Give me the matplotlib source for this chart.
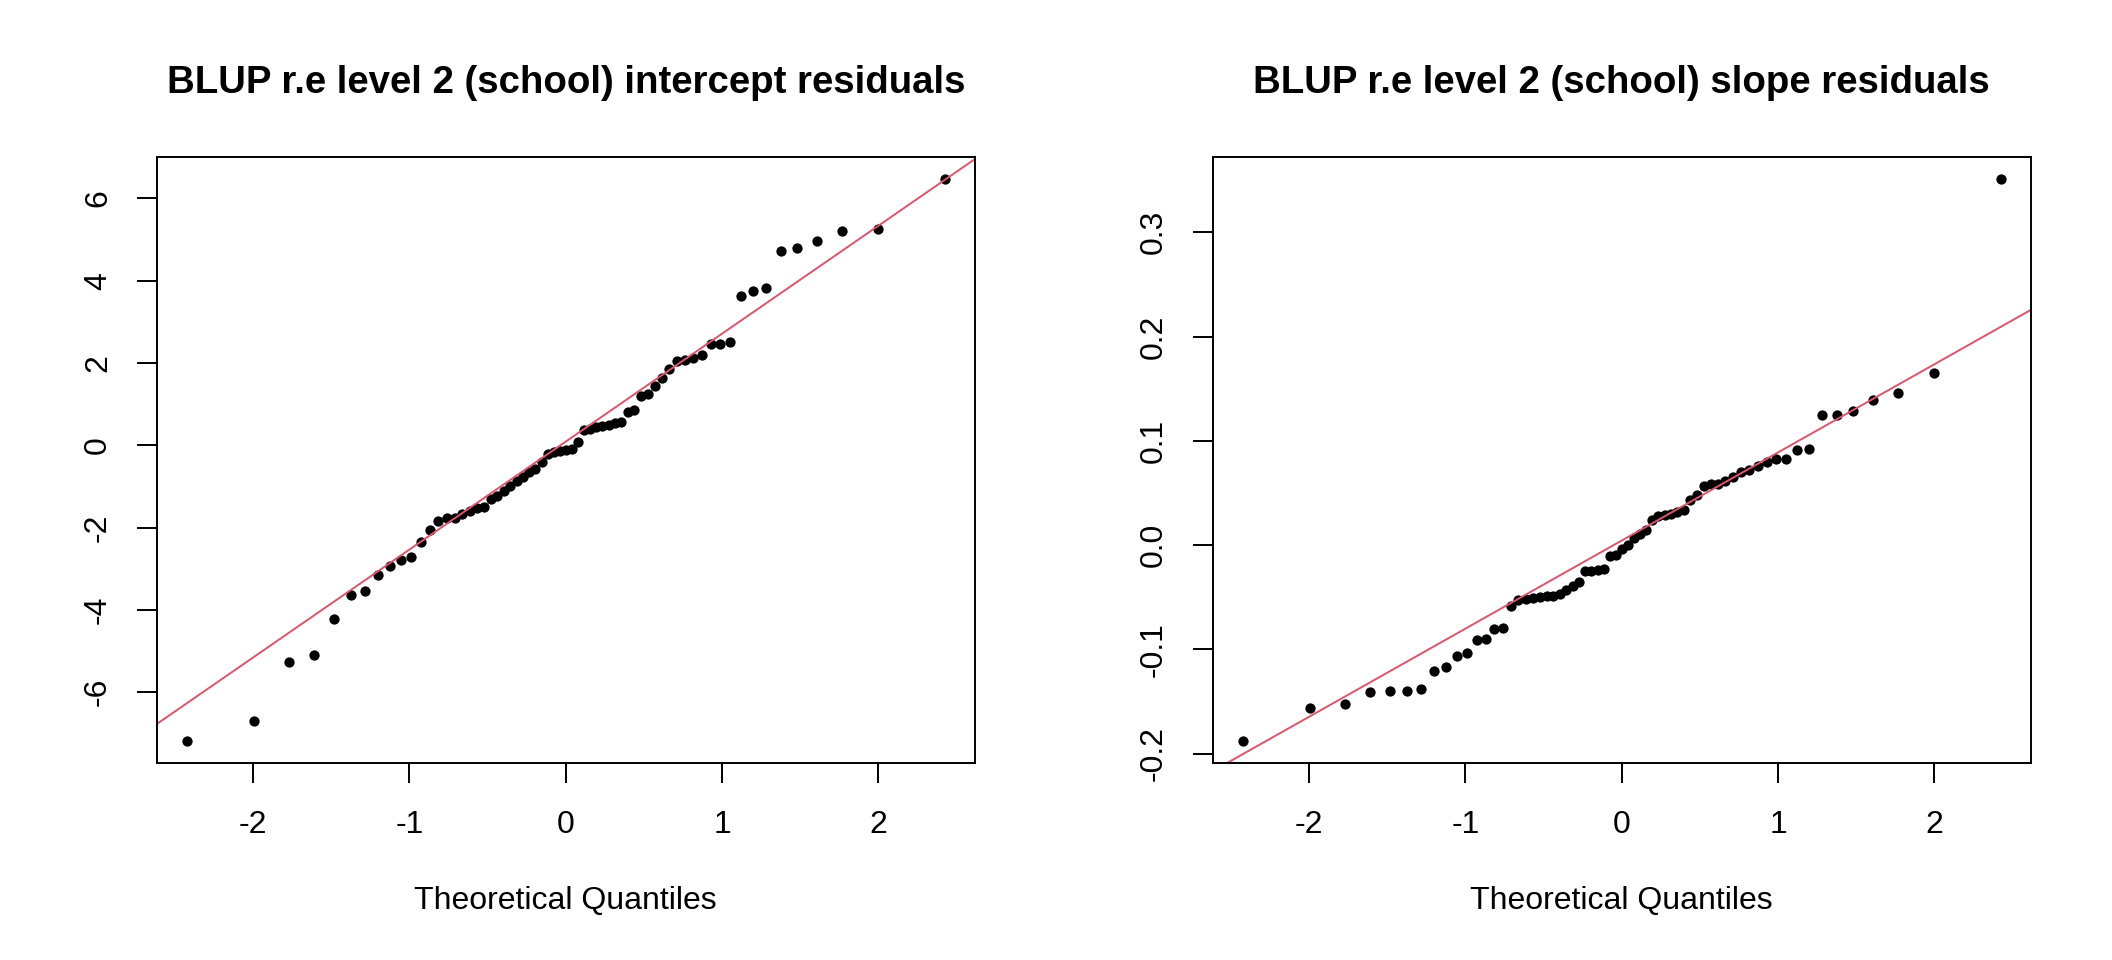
import matplotlib
matplotlib.use("Agg")
import matplotlib.pyplot as plt
import numpy as np
from statistics import NormalDist

plt.rcParams['font.family'] = ['Liberation Sans', 'DejaVu Sans']
plt.rcParams['axes.unicode_minus'] = False

# sorted BLUP residuals (65 schools)
intercept_resid = [
    -7.19, -6.70, -5.28, -5.10, -4.23, -3.64, -3.54, -3.16, -2.94, -2.80,
    -2.72, -2.35, -2.06, -1.84, -1.77, -1.76, -1.68, -1.60, -1.53, -1.50,
    -1.30, -1.24, -1.10, -0.98, -0.88, -0.78, -0.66, -0.57, -0.40, -0.22,
    -0.17, -0.14, -0.12, -0.09, 0.09, 0.36, 0.40, 0.45, 0.48, 0.50,
    0.53, 0.56, 0.80, 0.86, 1.21, 1.25, 1.45, 1.63, 1.86, 2.04,
    2.08, 2.12, 2.20, 2.47, 2.47, 2.50, 3.64, 3.74, 3.82, 4.72,
    4.80, 4.96, 5.20, 5.27, 6.47,
]
slope_resid = [
    -0.1878, -0.1565, -0.1526, -0.1408, -0.1400, -0.1399, -0.1383, -0.1207, -0.1168, -0.1066,
    -0.1034, -0.0913, -0.0903, -0.0807, -0.0795, -0.0580, -0.0525, -0.0515, -0.0508, -0.0500,
    -0.0490, -0.0485, -0.0465, -0.0430, -0.0395, -0.0353, -0.0250, -0.0245, -0.0240, -0.0225,
    -0.0107, -0.0098, -0.0034, 0.0000, 0.0072, 0.0110, 0.0149, 0.0244, 0.0276, 0.0292,
    0.0302, 0.0317, 0.0334, 0.0430, 0.0477, 0.0564, 0.0583, 0.0590, 0.0615, 0.0653,
    0.0700, 0.0717, 0.0758, 0.0797, 0.0823, 0.0829, 0.0909, 0.0925, 0.1248, 0.1248,
    0.1286, 0.1388, 0.1458, 0.1650, 0.3510,
]

titles = ["BLUP r.e level 2 (school) intercept residuals",
          "BLUP r.e level 2 (school) slope residuals"]
yticks = [[-6, -4, -2, 0, 2, 4, 6], [-0.2, -0.1, 0.0, 0.1, 0.2, 0.3]]
ytick_labels = [["-6", "-4", "-2", "0", "2", "4", "6"],
                ["-0.2", "-0.1", "0.0", "0.1", "0.2", "0.3"]]
xticks = [-2, -1, 0, 1, 2]
xtick_labels = ["-2", "-1", "0", "1", "2"]


def theoretical_quantiles(n):
    # ppoints() as in R's qqnorm
    a = 3 / 8 if n <= 10 else 0.5
    nd = NormalDist()
    return np.array([nd.inv_cdf((i - a) / (n + 1 - 2 * a)) for i in range(1, n + 1)])


def qq_panel(ax, values, title, yt, ytl):
    y = np.sort(np.array(values))
    x = theoretical_quantiles(len(y))
    ax.plot(x, y, 'o', color='black', markersize=7.4, markeredgewidth=0)

    # qqline through the quartiles
    q1, q3 = np.quantile(y, [0.25, 0.75])
    t1, t3 = NormalDist().inv_cdf(0.25), NormalDist().inv_cdf(0.75)
    slope = (q3 - q1) / (t3 - t1)
    inter = q1 - slope * t1

    xr = x.max() - x.min()
    yr = y.max() - y.min()
    xlim = (x.min() - 0.04 * xr, x.max() + 0.04 * xr)
    ylim = (y.min() - 0.04 * yr, y.max() + 0.04 * yr)
    xx = np.array([xlim[0] - 1, xlim[1] + 1])
    ax.plot(xx, inter + slope * xx, color='#DF536B', linewidth=1.4)
    ax.set_xlim(xlim)
    ax.set_ylim(ylim)

    ax.set_xticks(xticks)
    ax.set_xticklabels(xtick_labels, fontsize=23)
    ax.set_yticks(yt)
    ax.set_yticklabels(ytl, fontsize=23, rotation=90, va='center')
    ax.tick_params(axis='both', direction='out', length=14.4, width=1.4)
    ax.tick_params(axis='x', pad=19)
    ax.tick_params(axis='y', pad=17)
    for s in ax.spines.values():
        s.set_linewidth(1.4)

    ax.set_xlabel("Theoretical Quantiles", fontsize=23)
    ax.xaxis.set_label_coords(0.5, -0.226)
    ax.xaxis.label.set_va('center')
    ax.set_title(title, fontsize=27.6, fontweight='bold', y=1.122, va='center', pad=0)


fig = plt.figure(figsize=(21.12, 9.6), dpi=100)
ax1 = fig.add_axes([0.0742, 0.2047, 0.3874, 0.6321])
ax2 = fig.add_axes([0.5742, 0.2047, 0.3874, 0.6321])

qq_panel(ax1, intercept_resid, titles[0], yticks[0], ytick_labels[0])
qq_panel(ax2, slope_resid, titles[1], yticks[1], ytick_labels[1])

fig.savefig("out.png", dpi=100, facecolor='white')
